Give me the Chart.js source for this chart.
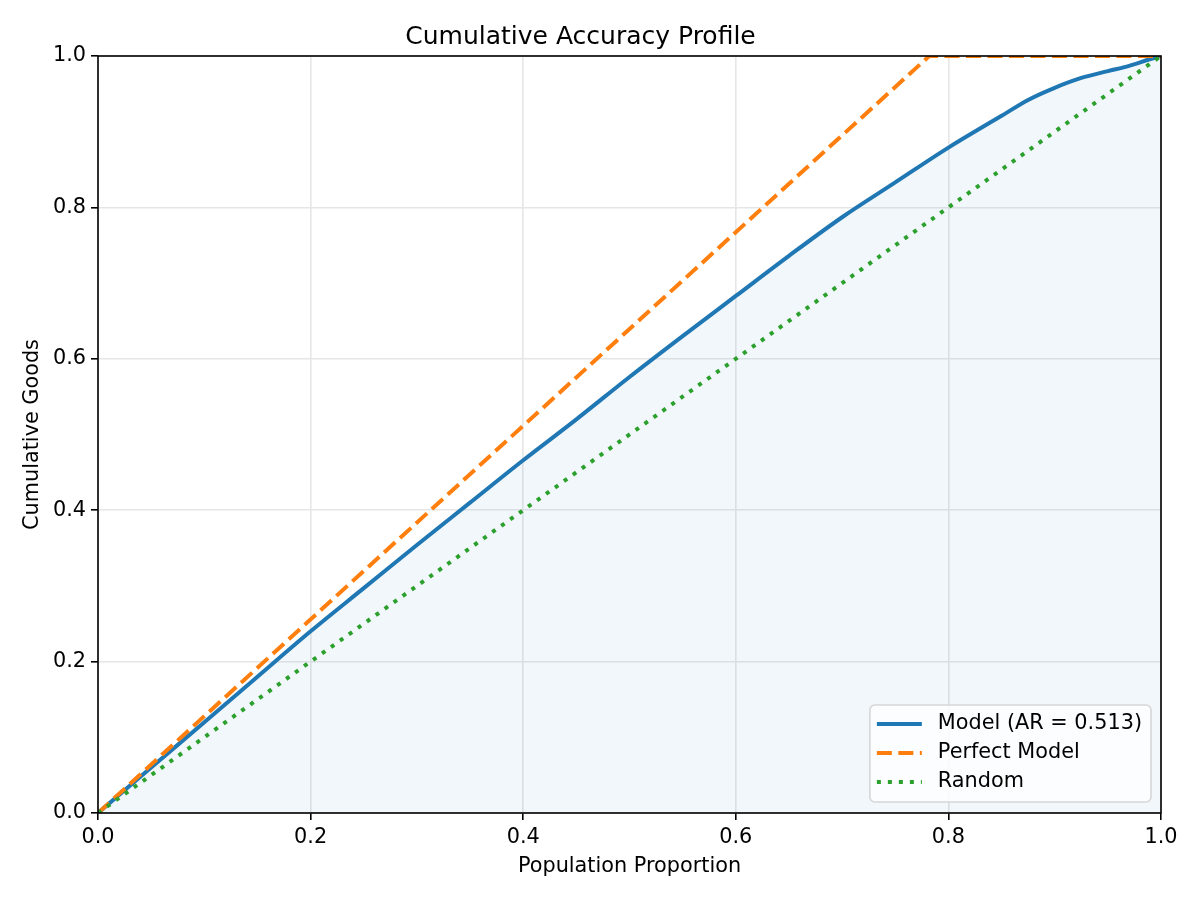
<!DOCTYPE html>
<html>
<head>
<meta charset="utf-8">
<script src="https://cdn.jsdelivr.net/npm/chart.js@4.4.0/dist/chart.umd.min.js"></script>
<style>
  html, body { margin: 0; padding: 0; background: #fff; }
  #wrap { width: 1200px; height: 900px; }
</style>
</head>
<body>
<div id="wrap"><canvas id="capChart" width="1200" height="900"></canvas></div>
<script>
// values
const modelX = [0, 0.05, 0.1, 0.15, 0.2, 0.25, 0.3, 0.35, 0.4, 0.45, 0.5, 0.55, 0.6, 0.65, 0.7, 0.75, 0.8, 0.85, 0.875, 0.9, 0.925, 0.95, 0.97, 0.99, 1.0];
const modelY = [0, 0.06, 0.12, 0.18, 0.24, 0.297, 0.354, 0.41, 0.466, 0.52, 0.576, 0.63, 0.683, 0.736, 0.787, 0.833, 0.879, 0.921, 0.942, 0.958, 0.971, 0.98, 0.987, 0.996, 1.0];
const perfectX = [0, 0.782, 1.0];
const perfectY = [0, 1.0, 1.0];
const randomX = [0, 1.0];
const randomY = [0, 1.0];
const modelLabel = 'Model (AR = 0.513)';
const perfectLabel = 'Perfect Model';
const randomLabel = 'Random';
const tickValues = [0, 0.2, 0.4, 0.6, 0.8, 1.0];

const FONT = 'DejaVu Sans';

function toPoints(xs, ys) {
    return xs.map((x, i) => ({ x: x, y: ys[i] }));
}

// four black spines round the plot
const frame = {
    id: 'frame',
    afterDatasetsDraw(chart) {
        const a = chart.chartArea;
        const ctx = chart.ctx;
        ctx.save();
        ctx.strokeStyle = '#000';
        ctx.lineWidth = 1.6;
        ctx.strokeRect(a.left, a.top, a.right - a.left, a.bottom - a.top);
        ctx.restore();
    }
};

// matplotlib style legend in the lower right corner
const boxLegend = {
    id: 'boxLegend',
    afterDraw(chart) {
        const a = chart.chartArea;
        const ctx = chart.ctx;
        const sets = chart.data.datasets;
        ctx.save();
        ctx.font = '20.8px "' + FONT + '"';
        let maxW = 0;
        sets.forEach(ds => { maxW = Math.max(maxW, ctx.measureText(ds.label).width); });
        const w = 68 + maxW + 9;
        const h = 97;
        const x = a.right - 10 - w;
        const y = a.bottom - 11 - h;
        ctx.beginPath();
        ctx.roundRect(x, y, w, h, 5);
        ctx.fillStyle = 'rgba(255,255,255,0.8)';
        ctx.fill();
        ctx.strokeStyle = '#d6d6d6';
        ctx.lineWidth = 1.6;
        ctx.stroke();
        sets.forEach((ds, i) => {
            const cy = y + 19 + i * 29;
            ctx.beginPath();
            ctx.setLineDash(ds.borderDash || []);
            ctx.lineWidth = ds.borderWidth;
            ctx.strokeStyle = ds.borderColor;
            ctx.moveTo(x + 7, cy);
            ctx.lineTo(x + 52, cy);
            ctx.stroke();
            ctx.setLineDash([]);
            ctx.fillStyle = '#000';
            ctx.textBaseline = 'middle';
            ctx.fillText(ds.label, x + 68, cy);
        });
        ctx.restore();
    }
};

const axisCommon = {
    type: 'linear',
    min: 0,
    max: 1,
    border: { display: false },
    grid: {
        color: '#e6e6e6',
        lineWidth: 1.6,
        tickColor: '#000',
        tickWidth: 1.6,
        tickLength: 7
    },
    afterBuildTicks(scale) {
        scale.ticks = tickValues.map(v => ({ value: v }));
    }
};

const ctx = document.getElementById('capChart').getContext('2d');
const chart = new Chart(ctx, {
    type: 'line',
    data: {
        datasets: [{
            label: modelLabel,
            data: toPoints(modelX, modelY),
            borderColor: '#1f77b4',
            borderWidth: 4,
            backgroundColor: 'rgba(31,119,180,0.06)',
            fill: 'origin',
            pointRadius: 0,
            cubicInterpolationMode: 'monotone',
            order: 3,
            clip: 0
        }, {
            label: perfectLabel,
            data: toPoints(perfectX, perfectY),
            borderColor: '#ff7f0e',
            borderWidth: 4,
            borderDash: [15, 6.5],
            fill: false,
            pointRadius: 0,
            tension: 0,
            order: 2,
            clip: 0
        }, {
            label: randomLabel,
            data: toPoints(randomX, randomY),
            borderColor: '#2ca02c',
            borderWidth: 4,
            borderDash: [4, 7],
            fill: false,
            pointRadius: 0,
            tension: 0,
            order: 1,
            clip: 0
        }]
    },
    options: {
        responsive: false,
        animation: false,
        devicePixelRatio: 1,
        layout: { padding: { left: 0, right: 39, top: 0, bottom: 0 } },
        plugins: {
            legend: { display: false },
            tooltip: { enabled: false },
            title: {
                display: true,
                text: 'Cumulative Accuracy Profile',
                color: '#000',
                font: { family: FONT, size: 25, weight: 'normal' },
                padding: { top: 22, bottom: 4 }
            }
        },
        scales: {
            x: Object.assign({}, axisCommon, {
                position: 'bottom',
                ticks: {
                    color: '#000',
                    font: { family: FONT, size: 20.8 },
                    padding: 5,
                    maxRotation: 0,
                    callback: v => v.toFixed(1)
                },
                title: {
                    display: true,
                    text: 'Population Proportion',
                    color: '#000',
                    font: { family: FONT, size: 20.8 },
                    padding: { top: 0, bottom: 21 }
                },
                afterFit(scale) { scale.height = 87; }
            }),
            y: Object.assign({}, axisCommon, {
                position: 'left',
                ticks: {
                    color: '#000',
                    font: { family: FONT, size: 20.8 },
                    padding: 5,
                    callback: v => v.toFixed(1)
                },
                title: {
                    display: true,
                    text: 'Cumulative Goods',
                    color: '#000',
                    font: { family: FONT, size: 20.8 },
                    padding: { top: 20, bottom: 0 }
                },
                afterFit(scale) { scale.width = 98; }
            })
        }
    },
    plugins: [frame, boxLegend]
});
</script>
</body>
</html>
